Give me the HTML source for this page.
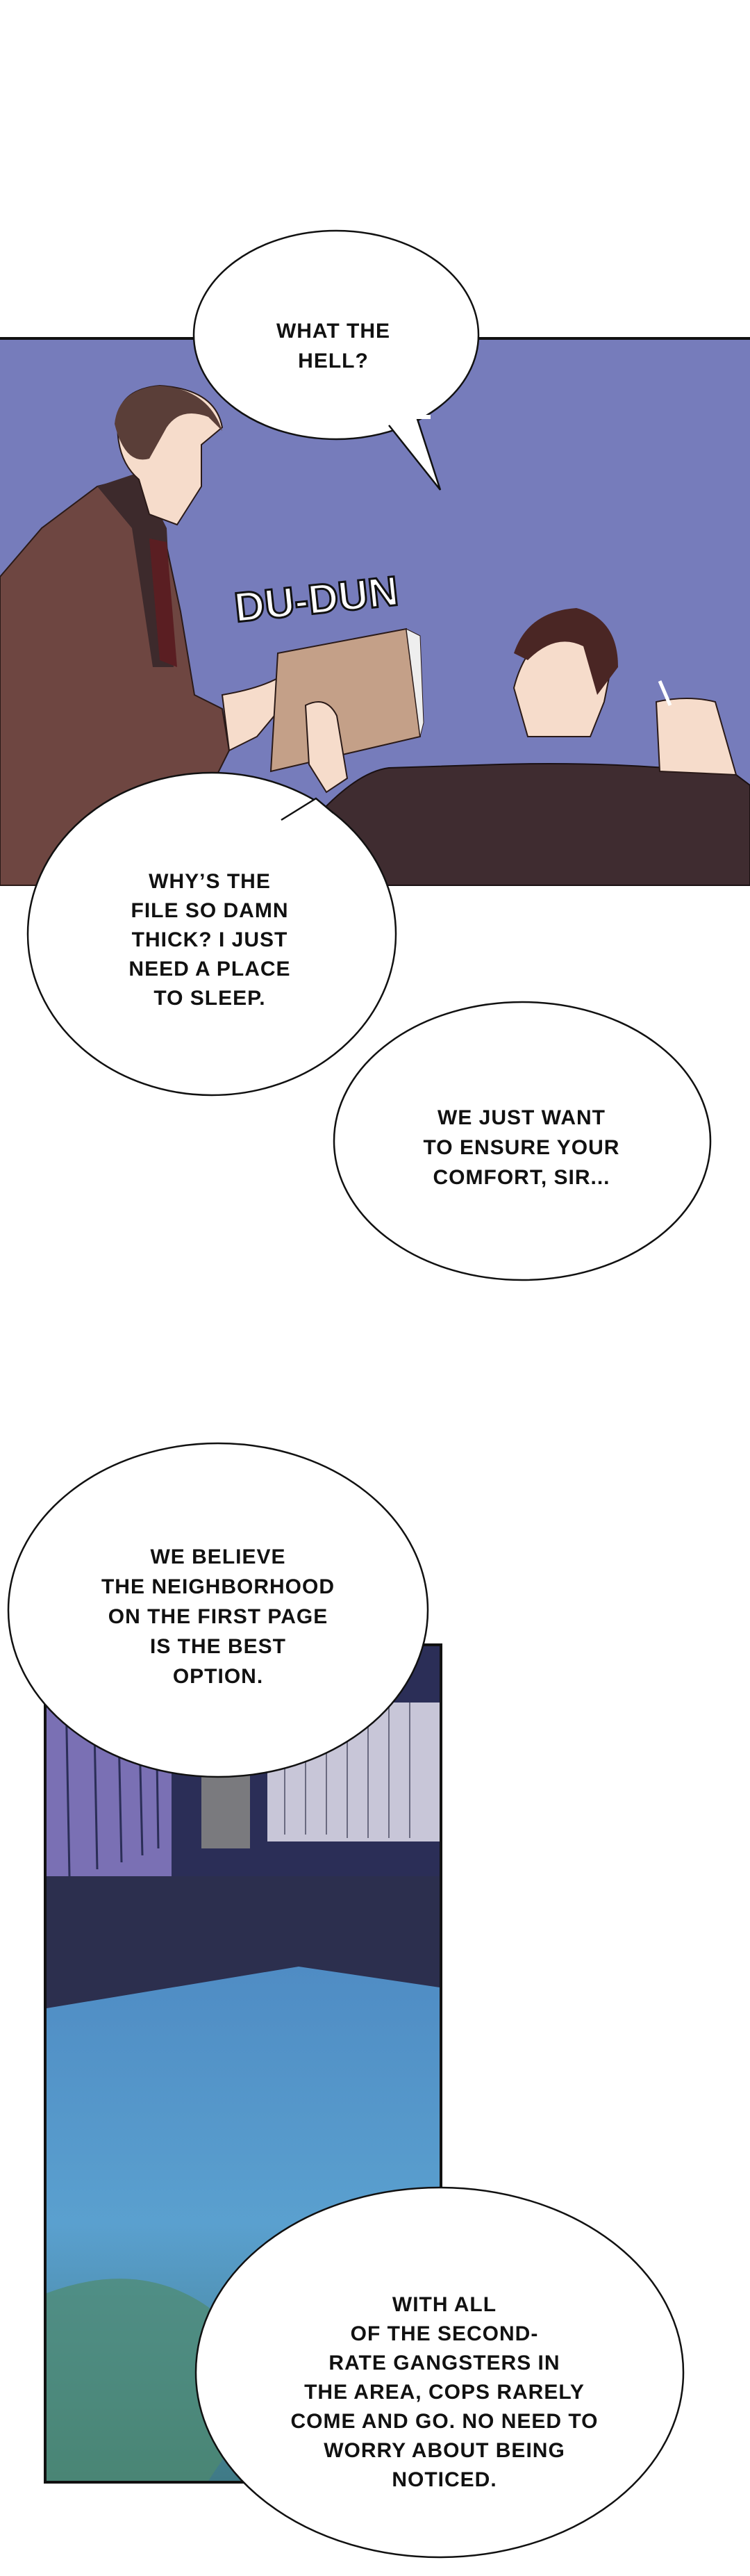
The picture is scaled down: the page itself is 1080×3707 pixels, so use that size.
<!DOCTYPE html>
<html><head><meta charset="utf-8"><style>
html,body{margin:0;padding:0;background:#fff;}
body{width:1080px;height:3707px;position:relative;overflow:hidden;font-family:"Liberation Sans",sans-serif;}
svg{position:absolute;left:0;top:0;}
</style></head><body>
<svg width="1080" height="3707" viewBox="0 0 1080 3707" xmlns="http://www.w3.org/2000/svg">
<defs>
<linearGradient id="aq" x1="0" y1="0" x2="0" y2="1">
<stop offset="0" stop-color="#4f8cc4"/><stop offset="0.5" stop-color="#5aa0cf"/><stop offset="1" stop-color="#3f7a86"/>
</linearGradient>
</defs>
<!-- Panel 1 -->
<rect x="0" y="486" width="1080" height="788" fill="#767cbb"/>
<line x1="0" y1="487" x2="1080" y2="487" stroke="#111" stroke-width="4"/>
<line x1="0" y1="1274" x2="1080" y2="1274" stroke="#111" stroke-width="2"/>
<!-- standing man coat -->
<path d="M0,830 L60,760 L140,700 L180,690 L230,740 L260,880 L280,1000 L320,1020 L330,1080 L300,1140 L250,1200 L150,1274 L0,1274 Z" fill="#6e4641" stroke="#2a1a18" stroke-width="2"/>
<path d="M140,700 L200,680 L240,760 L250,960 L220,960 L190,760 Z" fill="#3d2a2c"/>
<path d="M215,775 L240,780 L255,960 L230,950 Z" fill="#5a1e22"/>
<!-- head -->
<path d="M170,600 Q175,560 230,555 Q310,560 320,615 L290,640 L290,700 L255,755 L215,740 L200,690 Q165,660 170,600 Z" fill="#f6dccb" stroke="#2a1a18" stroke-width="2"/>
<path d="M165,610 Q170,560 230,555 Q300,560 320,620 L300,600 Q260,585 240,615 L215,660 Q180,670 165,610 Z" fill="#5a3e38"/>
<!-- hands -->
<path d="M320,1000 Q380,990 410,970 L420,1000 L370,1060 L330,1080 Z" fill="#f6dccb" stroke="#2a1a18" stroke-width="2"/>
<!-- file -->
<path d="M400,940 L585,905 L605,1060 L390,1110 Z" fill="#c4a088" stroke="#2a1a18" stroke-width="2"/>
<path d="M585,905 L605,915 L610,1040 L605,1060 Z" fill="#eee" stroke="#2a1a18" stroke-width="1"/>
<path d="M440,1015 Q470,1000 485,1030 L500,1120 L470,1140 L445,1100 Z" fill="#f6dccb" stroke="#2a1a18" stroke-width="2"/>
<!-- DU-DUN -->
<text x="340" y="895" font-family="Liberation Sans, sans-serif" font-size="60" font-weight="bold" fill="#fff" stroke="#111" stroke-width="3" transform="rotate(-6 340 895)">DU-DUN</text>
<!-- seated man -->
<path d="M740,990 Q760,910 830,895 Q880,905 880,960 L870,1010 L850,1060 L760,1060 Z" fill="#f6dccb" stroke="#2a1a18" stroke-width="2"/>
<path d="M740,940 Q760,880 830,875 Q890,890 890,960 L860,1000 L840,930 Q800,910 760,950 Z" fill="#4a2624"/>
<path d="M470,1160 Q520,1110 560,1105 L720,1100 Q900,1095 1060,1115 L1080,1130 L1080,1274 L470,1274 Z" fill="#3f2c30" stroke="#1a1012" stroke-width="2"/>
<path d="M945,1010 Q990,1000 1030,1010 L1060,1115 L950,1110 Z" fill="#f6dccb" stroke="#2a1a18" stroke-width="2"/>
<line x1="950" y1="980" x2="965" y2="1015" stroke="#fff" stroke-width="5"/>
<!-- Panel 2 -->
<rect x="65" y="2367" width="570" height="1205" fill="#2b2e57" stroke="#111" stroke-width="4"/>
<rect x="67" y="2440" width="180" height="260" fill="#7a70b4"/>
<g stroke="#2b2e57" stroke-width="3">
<line x1="95" y1="2440" x2="100" y2="2700"/><line x1="135" y1="2440" x2="140" y2="2690"/><line x1="170" y1="2450" x2="175" y2="2680"/><line x1="200" y1="2460" x2="205" y2="2670"/><line x1="225" y1="2470" x2="228" y2="2660"/></g>
<rect x="290" y="2500" width="70" height="160" fill="#7a7a7e"/>
<rect x="385" y="2450" width="248" height="200" fill="#c8c6d8"/>
<g stroke="#6a6a80" stroke-width="2">
<line x1="410" y1="2455" x2="410" y2="2640"/><line x1="440" y1="2455" x2="440" y2="2640"/><line x1="470" y1="2455" x2="470" y2="2640"/><line x1="500" y1="2450" x2="500" y2="2645"/><line x1="530" y1="2450" x2="530" y2="2645"/><line x1="560" y1="2450" x2="560" y2="2645"/><line x1="590" y1="2450" x2="590" y2="2645"/></g>
<rect x="67" y="2700" width="566" height="200" fill="#2c2f4e"/>
<path d="M67,2890 L430,2830 L633,2860 L633,3570 L67,3570 Z" fill="url(#aq)"/>
<path d="M67,3300 Q200,3250 300,3320 L400,3420 L300,3570 L67,3570 Z" fill="#4f8a6e" opacity="0.7"/>
<!-- Bubbles -->
<g fill="#fff" stroke="#111" stroke-width="2.5">
<ellipse cx="484" cy="482" rx="205" ry="150"/>
<ellipse cx="305" cy="1344" rx="265" ry="232"/>
<ellipse cx="752" cy="1642" rx="271" ry="200"/>
<ellipse cx="314" cy="2317" rx="302" ry="240"/>
<ellipse cx="633" cy="3414" rx="351" ry="266"/>
</g>
<path d="M560,612 L634,705 L600,600" fill="#fff" stroke="#111" stroke-width="2.5"/>
<path d="M545,600 L620,600" stroke="#fff" stroke-width="6"/>
<path d="M405,1180 L455,1149 L480,1170" fill="#fff" stroke="#111" stroke-width="2.5"/>
<path d="M410,1190 L478,1182" stroke="#fff" stroke-width="8"/>
<g font-family="Liberation Sans, sans-serif" font-size="30" font-weight="bold" fill="#111" text-anchor="middle" letter-spacing="1">
<text x="480" y="486">WHAT THE</text>
<text x="480" y="529">HELL?</text>
<text x="302" y="1278">WHY’S THE</text>
<text x="302" y="1320">FILE SO DAMN</text>
<text x="302" y="1362">THICK? I JUST</text>
<text x="302" y="1404">NEED A PLACE</text>
<text x="302" y="1446">TO SLEEP.</text>
<text x="751" y="1618">WE JUST WANT</text>
<text x="751" y="1661">TO ENSURE YOUR</text>
<text x="751" y="1704">COMFORT, SIR...</text>
<text x="314" y="2250">WE BELIEVE</text>
<text x="314" y="2293">THE NEIGHBORHOOD</text>
<text x="314" y="2336">ON THE FIRST PAGE</text>
<text x="314" y="2379">IS THE BEST</text>
<text x="314" y="2422">OPTION.</text>
<text x="640" y="3326">WITH ALL</text>
<text x="640" y="3368">OF THE SECOND-</text>
<text x="640" y="3410">RATE GANGSTERS IN</text>
<text x="640" y="3452">THE AREA, COPS RARELY</text>
<text x="640" y="3494">COME AND GO. NO NEED TO</text>
<text x="640" y="3536">WORRY ABOUT BEING</text>
<text x="640" y="3578">NOTICED.</text>
</g>
</svg>
</body></html>
